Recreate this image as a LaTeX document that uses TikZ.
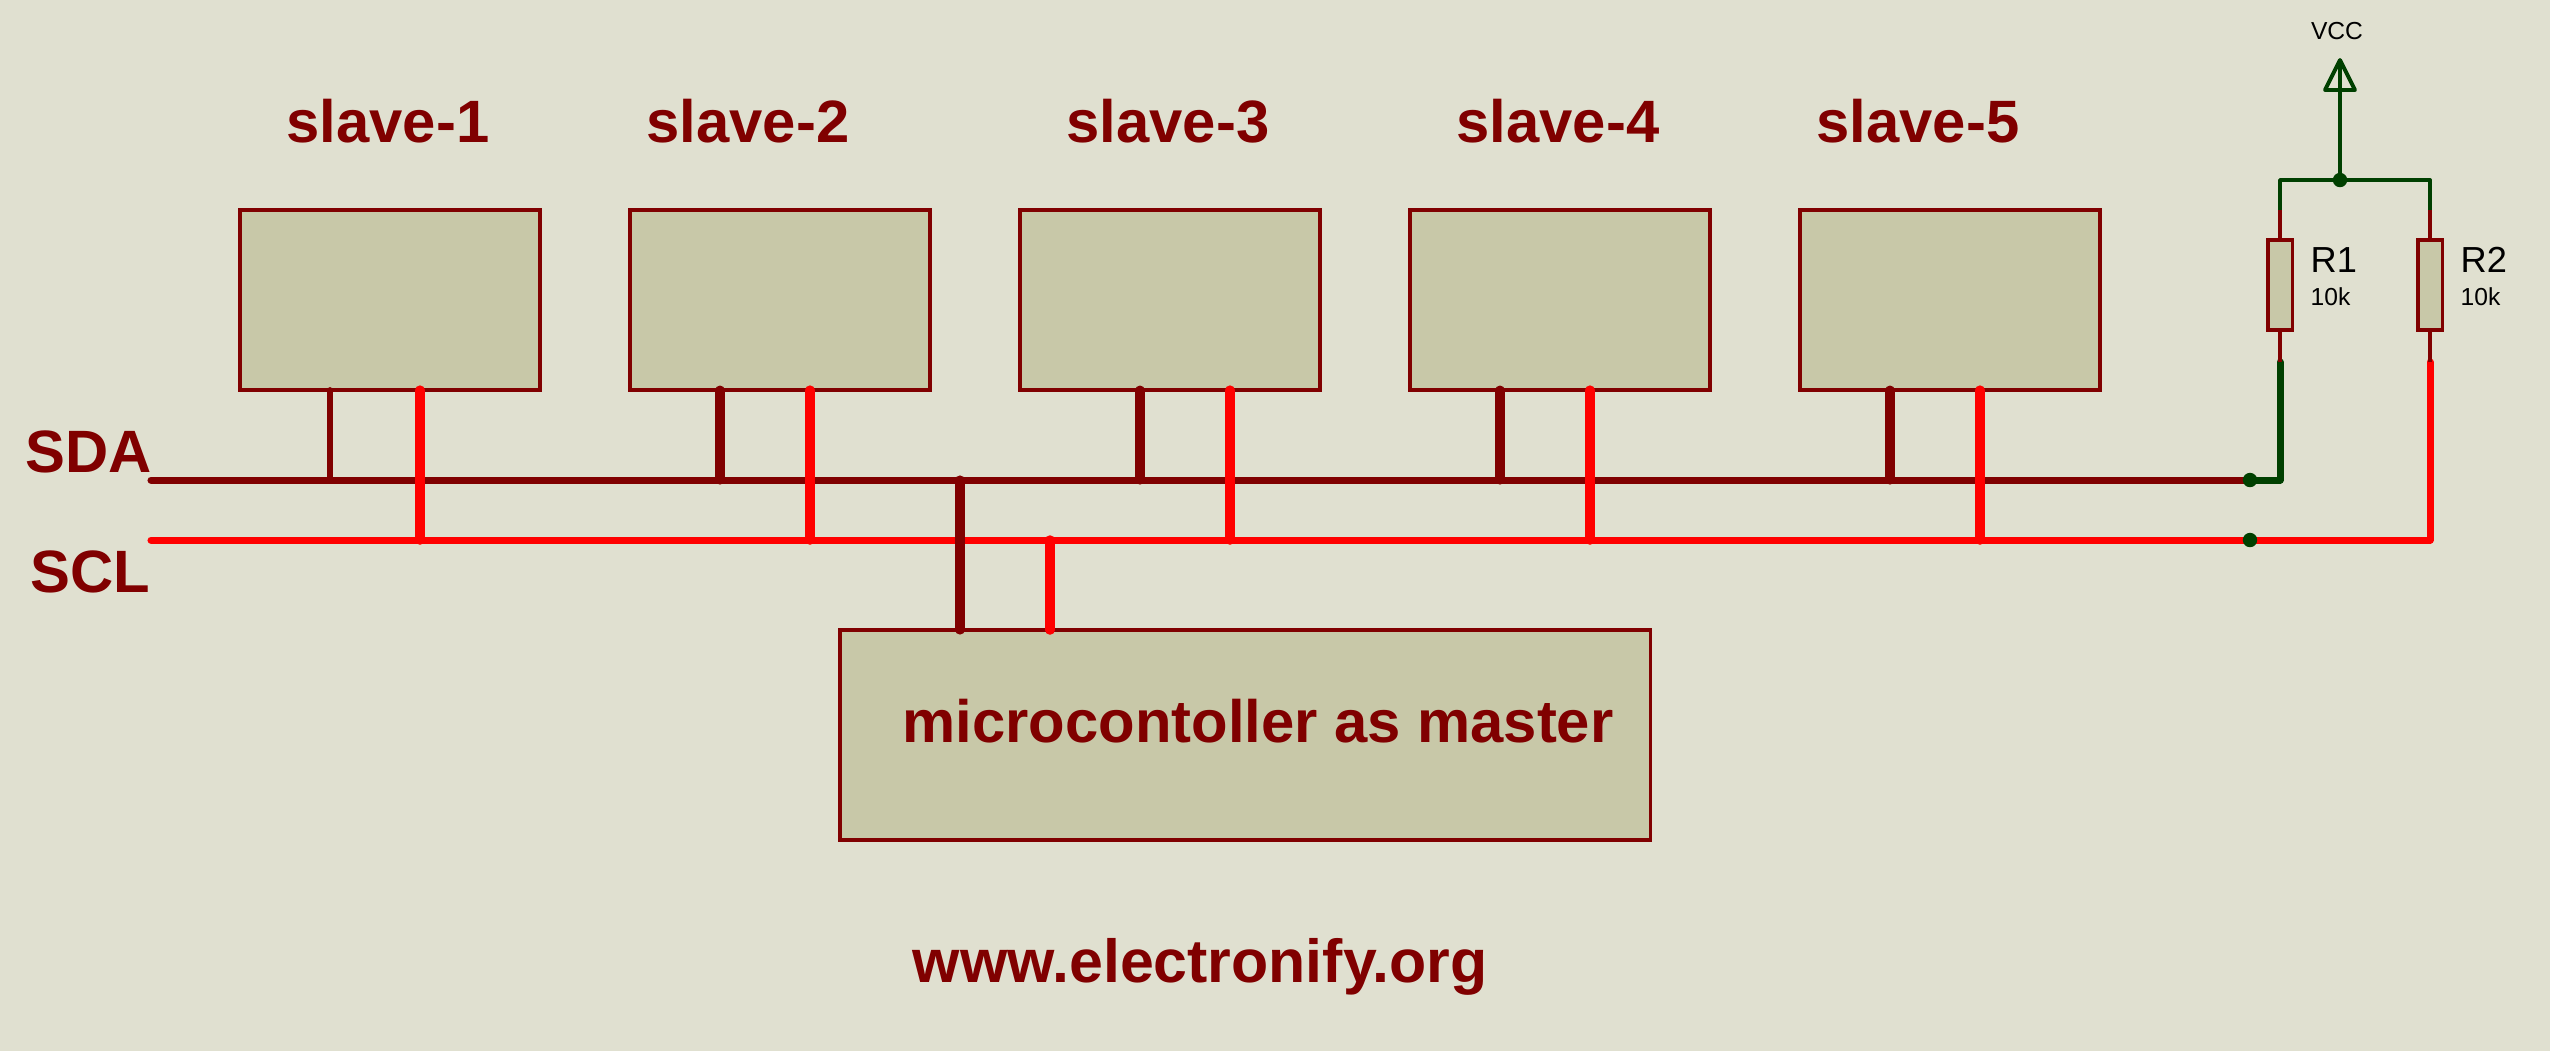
\documentclass[tikz,border=0pt]{standalone}
\usepackage{fontspec}
\setmainfont{Liberation Sans}
\usepackage{xcolor}
\usetikzlibrary{calc}
\definecolor{papel}{RGB}{224,224,208}
\definecolor{caja}{RGB}{200,200,168}
\definecolor{rojooscuro}{RGB}{128,0,0}
\definecolor{rojobus}{RGB}{255,0,0}
\definecolor{verdered}{RGB}{0,64,0}
\tikzset{
  chipbox/.style={draw=rojooscuro,fill=caja,line width=1.1pt,inner sep=0pt,outer sep=0pt,anchor=north west},
  rotulo/.style={text=rojooscuro,font=\fontsize{17}{17}\bfseries\selectfont,inner sep=0pt,anchor=base},
  resbox/.style={draw=rojooscuro,fill=caja,line width=1pt,inner sep=0pt,outer sep=0pt,minimum width=0.245cm,minimum height=0.9cm},
  negro/.style={text=black,inner sep=0pt,anchor=base west},
  union/.style={circle,fill=verdered,inner sep=0pt,minimum size=4.1pt},
  sdawire/.style={rojooscuro,line width=2pt,line cap=round},
  sclwire/.style={rojobus,line width=2pt,line cap=round,line join=round},
  sdastub/.style={rojooscuro,line width=2.6pt,line cap=round},
  sclstub/.style={rojobus,line width=2.7pt,line cap=round},
  pinwire/.style={rojooscuro,line width=1pt},
  netwire/.style={verdered,line width=1.1pt,line join=round}
}
\begin{document}
\begin{tikzpicture}[x=0.01cm,y=-0.01cm]
    \useasboundingbox (0,0) rectangle (2550,1050);
    \fill[papel] (-5,-5) rectangle (2555,1055);
    % esclavos
    \foreach \i/\xa/\xt in {1/240/388,2/630/748,3/1020/1168,4/1410/1558,5/1800/1918}{
        \node[chipbox,minimum width=3cm,minimum height=1.8cm] (slave\i) at (\xa,210) {};
        \node[rotulo] (name\i) at (\xt,142) {slave-\i};
    }
    % maestro
    \node[chipbox,minimum width=8.1cm,minimum height=2.1cm] (master) at (840,630) {};
    \node[rotulo] (mastername) at (1258,742) {microcontoller as master};
    % bus
    \coordinate (sdastart) at (151,480);
    \coordinate (sclstart) at (151,540);
    \coordinate (jsda) at (2250,480);
    \coordinate (jscl) at (2250,540);
    \draw[sdawire] (sdastart) -- (jsda);
    \draw[sclwire] (sclstart) -- (jscl);
    \node[rotulo] (sdaname) at (89,472) {SDA};
    \node[rotulo] (sclname) at (90,592) {SCL};
    % derivaciones de cada esclavo
    \foreach \i/\xa/\xb/\ancho in {1/330/420/1.7pt,2/720/810/2.6pt,3/1140/1230/2.6pt,4/1500/1590/2.6pt,5/1890/1980/2.6pt}{
        \coordinate (sda\i) at (\xa,480);
        \coordinate (scl\i) at (\xb,540);
        \draw[sdastub,line width=\ancho] (sda\i |- slave\i.south) -- (sda\i);
        \draw[sclstub] (scl\i |- slave\i.south) -- (scl\i);
    }
    % derivaciones del maestro
    \coordinate (sdam) at (960,480);
    \coordinate (sclm) at (1050,540);
    \draw[sclstub] (sclm) -- (sclm |- master.north);
    \draw[sdastub] (sdam) -- (sdam |- master.north);
    % resistencias
    \node[resbox] (r1) at (2280,285) {};
    \node[resbox] (r2) at (2430,285) {};
    \node[negro,font=\fontsize{10.3}{10.3}\selectfont] (r1name) at (2310,272) {R1};
    \node[negro,font=\fontsize{7}{7}\selectfont] (r1val) at (2310,305) {10k};
    \node[negro,font=\fontsize{10.3}{10.3}\selectfont] (r2name) at (2460,272) {R2};
    \node[negro,font=\fontsize{7}{7}\selectfont] (r2val) at (2460,305) {10k};
    \coordinate (r1top) at (2280,210);
    \coordinate (r2top) at (2430,210);
    \coordinate (r1low) at (2280,362);
    \coordinate (r2low) at (2430,362);
    \draw[pinwire] (r1.north) -- (r1top);
    \draw[pinwire] (r2.north) -- (r2top);
    % alimentacion
    \coordinate (jvcc) at (2340,180);
    \coordinate (vccbase) at (2340,90);
    \coordinate (vcctip) at (2340,60);
    \draw[netwire] (r1top) |- (jvcc) -| (r2top);
    \draw[netwire] (jvcc) -- (vcctip);
    \draw[netwire] ($(vccbase)+(-15,0)$) -- (vcctip) -- ($(vccbase)+(15,0)$) -- cycle;
    \node[union] (dotvcc) at (jvcc) {};
    \node[negro,anchor=base,font=\fontsize{7}{7}\selectfont] (vccname) at (2337,39) {VCC};
    % pull-up
    \draw[verdered,line width=2pt,line join=round,line cap=round] (jsda) -| (r1low);
    \draw[sclwire] (jscl) -| (r2low);
    \draw[pinwire] (r1.south) -- (r1low);
    \draw[pinwire] (r2.south) -- (r2low);
    \node[union] (dotsda) at (jsda) {};
    \node[union] (dotscl) at (jscl) {};
    \node[rotulo,font=\fontsize{17.3}{17.3}\bfseries\selectfont] (web) at (1200,982) {www.electronify.org};
\end{tikzpicture}
\end{document}
